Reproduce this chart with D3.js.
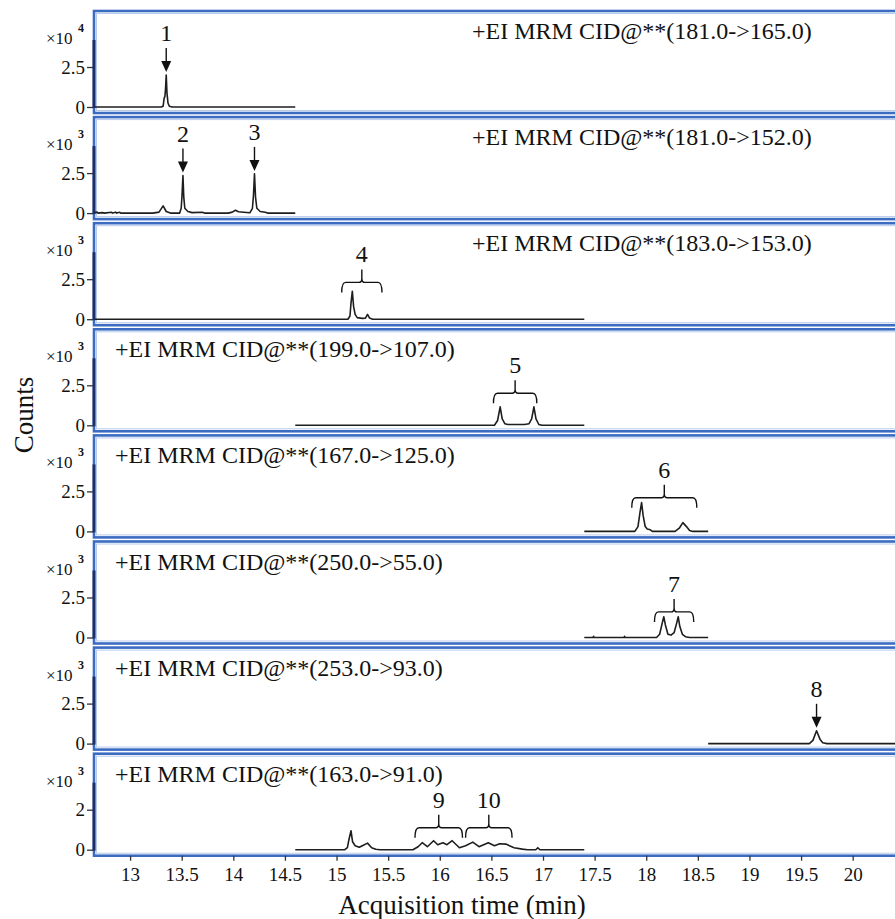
<!DOCTYPE html>
<html>
<head>
<meta charset="utf-8">
<script src="https://cdn.jsdelivr.net/npm/d3@7"></script>
<style>
  body { margin: 0; background: #fff; }
  svg { display: block; }
  svg text { font-family: "Liberation Serif", "Times New Roman", serif; }
</style>
</head>
<body>
<svg id="chart" width="895" height="919"></svg>
<script>
/* MRM chromatograms, one strip per transition, stacked on a shared time axis */

const xTicks = [13, 13.5, 14, 14.5, 15, 15.5, 16, 16.5, 17, 17.5, 18, 18.5, 19, 19.5, 20];
const xDomain = [12.66, 20.41];

const transitions = [
    '+EI MRM CID@**(181.0->165.0)',
    '+EI MRM CID@**(181.0->152.0)',
    '+EI MRM CID@**(183.0->153.0)',
    '+EI MRM CID@**(199.0->107.0)',
    '+EI MRM CID@**(167.0->125.0)',
    '+EI MRM CID@**(250.0->55.0)',
    '+EI MRM CID@**(253.0->93.0)',
    '+EI MRM CID@**(163.0->91.0)'
];
const labelOnRight = [true, true, true, false, false, false, false, false];
const exponents = ['4', '3', '3', '3', '3', '3', '3', '3'];
const yTickValues = [[0, 2.5], [0, 2.5], [0, 2.5], [0, 2.5], [0, 2.5], [0, 2.5], [0, 2.5], [0, 2]];
const yMax = [6, 6, 6, 6, 6, 6, 6, 4.8];

// [time (min), counts (x10^n)]
const trace1 = [[12.66, 0], [13.30, 0], [13.32, 0.05], [13.33, 0.55], [13.337, 0.65], [13.343, 1.1],
    [13.35, 2.0], [13.357, 0.9], [13.367, 0.25], [13.38, 0.05], [13.41, 0], [14.6, 0]];
const trace2 = [[12.66, 0.03], [12.68, 0.06], [12.69, 0], [12.73, 0.03], [12.75, 0], [12.82, 0.05],
    [12.83, 0], [12.86, 0.06], [12.87, 0], [12.90, 0.05], [12.91, 0], [13.22, 0], [13.28, 0.06],
    [13.32, 0.45], [13.35, 0.1], [13.39, 0], [13.48, 0], [13.495, 0.3], [13.503, 1.1], [13.512, 2.35],
    [13.52, 1.0], [13.53, 0.3], [13.56, 0.1], [13.60, 0.03], [13.70, 0.05], [13.72, 0], [13.95, 0],
    [13.99, 0.06], [14.02, 0.18], [14.05, 0.08], [14.10, 0.05], [14.16, 0.02], [14.185, 0.3],
    [14.195, 1.1], [14.205, 2.45], [14.215, 1.0], [14.228, 0.3], [14.26, 0.1], [14.31, 0.05],
    [14.33, 0], [14.6, 0]];
const trace3 = [[12.66, 0], [15.11, 0], [15.13, 0.2], [15.14, 1.0], [15.153, 1.75], [15.165, 0.8],
    [15.18, 0.3], [15.20, 0.1], [15.25, 0.05], [15.28, 0.07], [15.30, 0.3], [15.32, 0.07],
    [15.35, 0], [17.4, 0]];
const trace4 = [[14.6, 0], [16.53, 0], [16.56, 0.3], [16.585, 1.15], [16.605, 0.4], [16.63, 0.1],
    [16.66, 0.05], [16.82, 0.05], [16.865, 0.1], [16.89, 0.4], [16.912, 1.15], [16.932, 0.4],
    [16.96, 0.05], [16.99, 0], [17.4, 0]];
const trace5 = [[17.4, 0], [17.89, 0], [17.92, 0.3], [17.94, 1.2], [17.955, 1.8], [17.97, 1.0],
    [17.99, 0.3], [18.01, 0.15], [18.04, 0.1], [18.06, 0], [18.28, 0], [18.32, 0.2], [18.355, 0.55],
    [18.39, 0.3], [18.42, 0.05], [18.45, 0], [18.6, 0]];
const trace6 = [[17.4, 0], [17.485, 0], [17.49, 0.08], [17.495, 0], [17.785, 0], [17.79, 0.08],
    [17.795, 0], [18.10, 0], [18.13, 0.2], [18.155, 0.9], [18.17, 1.3], [18.185, 0.8], [18.21, 0.2],
    [18.24, 0.15], [18.27, 0.3], [18.295, 0.9], [18.31, 1.3], [18.325, 0.7], [18.35, 0.2],
    [18.38, 0.05], [18.42, 0], [18.6, 0]];
const trace7 = [[18.6, 0], [19.58, 0], [19.615, 0.2], [19.65, 0.8], [19.685, 0.25], [19.71, 0.05],
    [19.75, 0], [20.5, 0]];
const trace8 = [[14.6, 0], [15.08, 0], [15.105, 0.1], [15.12, 0.5], [15.14, 0.95], [15.155, 0.4],
    [15.18, 0.2], [15.22, 0.12], [15.25, 0.2], [15.30, 0.33], [15.34, 0.1], [15.38, 0.02],
    [15.42, 0], [15.74, 0], [15.79, 0.15], [15.83, 0.35], [15.88, 0.15], [15.94, 0.45], [15.98, 0.25],
    [16.03, 0.35], [16.07, 0.25], [16.12, 0.45], [16.19, 0.1], [16.25, 0.2], [16.32, 0.38],
    [16.38, 0.15], [16.47, 0.35], [16.53, 0.2], [16.58, 0.3], [16.64, 0.28], [16.72, 0.1],
    [16.80, 0.03], [16.85, 0], [16.93, 0], [16.95, 0.1], [16.97, 0], [17.4, 0]];
const traces = [trace1, trace2, trace3, trace4, trace5, trace6, trace7, trace8];

// peaks marked by an arrow: panel index, label, retention time, apex height
const arrowPanels = [0, 1, 1, 6];
const arrowLabels = ['1', '2', '3', '8'];
const arrowTimes = [13.35, 13.512, 14.205, 19.65];
const arrowHeights = [2.0, 2.35, 2.45, 0.8];

// peak groups marked by a brace: panel index, label, start/end time, brace height
const bracePanels = [2, 3, 4, 5, 7, 7];
const braceLabels = ['4', '5', '6', '7', '9', '10'];
const braceStart = [15.05, 16.52, 17.86, 18.08, 15.76, 16.25];
const braceEnd = [15.44, 16.94, 18.49, 18.46, 16.22, 16.70];
const braceHeights = [2.3, 2.0, 2.1, 1.6, 1.1, 1.1];

const PANEL_LEFT = 94, PANEL_TOP = 11, PANEL_STEP = 106.1, PANEL_H = 102;
const BASE_OFFSET = 96; // zero line sits this far below the panel top
const colors = {
    frame: '#3c6cc2',
    frameInner: '#b7cbec',
    axis: '#1c2f68',
    trace: '#1e1e1e',
    ink: '#111'
};

const svg = d3.select('#chart');
const x = d3.scaleLinear().domain(xDomain).range([95, 895]);
const line = d3.line().x(d => x(d[0]));

function panelTop(i) { return PANEL_TOP + i * PANEL_STEP; }

function makeY(i) {
    let top = panelTop(i);
    return d3.scaleLinear().domain([0, yMax[i]]).range([top + BASE_OFFSET, top]);
}

let ys = transitions.map((t, i) => makeY(i));

transitions.forEach((label, i) => {
    let top = panelTop(i), y = ys[i];
    let g = svg.append('g').attr('class', 'panel');

    g.append('rect')
        .attr('x', PANEL_LEFT).attr('y', top)
        .attr('width', 830).attr('height', PANEL_H)
        .attr('fill', 'none')
        .attr('stroke', colors.frame)
        .attr('stroke-width', 2.6);
    g.append('rect')
        .attr('x', PANEL_LEFT + 2.5).attr('y', top + 2.5)
        .attr('width', 830).attr('height', PANEL_H - 5)
        .attr('fill', 'none')
        .attr('stroke', colors.frameInner)
        .attr('stroke-width', 1);

    // y axis: ticks + dark spine running up from the zero line
    let axis = g.append('g')
        .attr('transform', `translate(${PANEL_LEFT - 1},0)`)
        .call(d3.axisLeft(y).tickValues(yTickValues[i]).tickSize(6).tickPadding(2).tickFormat(d => d));
    axis.select('.domain').remove();
    axis.attr('font-family', null);
    axis.selectAll('line').attr('stroke', '#333').attr('stroke-width', 1.3);
    axis.selectAll('text')
        .attr('font-size', 19)
        .attr('fill', colors.ink);

    g.append('line')
        .attr('x1', PANEL_LEFT).attr('x2', PANEL_LEFT)
        .attr('y1', y(0) + 1).attr('y2', y(0) - 67)
        .attr('stroke', colors.axis)
        .attr('stroke-width', 3);

    g.append('text')
        .attr('x', 46).attr('y', y(0) - 63)
        .attr('font-size', 17)
        .attr('fill', colors.ink)
        .text('×10');
    g.append('text')
        .attr('x', 78).attr('y', y(0) - 75)
        .attr('font-size', 12)
        .attr('font-weight', 'bold')
        .attr('fill', colors.ink)
        .text(exponents[i]);

    g.append('text')
        .attr('x', labelOnRight[i] ? 472 : 115)
        .attr('y', top + 28)
        .attr('font-size', 24)
        .attr('fill', colors.ink)
        .text(label);

    g.append('path')
        .datum(traces[i])
        .attr('d', line.y(d => y(d[1])))
        .attr('fill', 'none')
        .attr('stroke', colors.trace)
        .attr('stroke-width', 1.6)
        .attr('stroke-linejoin', 'round');
});

// arrows over single peaks
arrowPanels.forEach((p, k) => {
    let px = x(arrowTimes[k]), tip = ys[p](arrowHeights[k]) - 3;
    let g = svg.append('g');
    g.append('line')
        .attr('x1', px).attr('x2', px)
        .attr('y1', tip - 24).attr('y2', tip - 8)
        .attr('stroke', colors.ink).attr('stroke-width', 1.4);
    g.append('path')
        .attr('d', `M${px - 5},${tip - 11} L${px + 5},${tip - 11} L${px},${tip} Z`)
        .attr('fill', colors.ink);
    g.append('text')
        .attr('x', px).attr('y', tip - 31)
        .attr('text-anchor', 'middle')
        .attr('font-size', 24)
        .attr('fill', colors.ink)
        .text(arrowLabels[k]);
});

// braces over groups of isomer peaks
bracePanels.forEach((p, k) => {
    let x0 = x(braceStart[k]), x1 = x(braceEnd[k]), xc = (x0 + x1) / 2;
    let yb = ys[p](braceHeights[k]);
    let d = `M${x0},${yb + 10} Q${x0},${yb} ${x0 + 4},${yb} L${xc - 3},${yb} Q${xc},${yb} ${xc},${yb - 4}` +
        ` L${xc},${yb - 13} M${xc},${yb - 4} Q${xc},${yb} ${xc + 3},${yb} L${x1 - 4},${yb} Q${x1},${yb} ${x1},${yb + 10}`;
    svg.append('path')
        .attr('d', d)
        .attr('fill', 'none')
        .attr('stroke', colors.ink)
        .attr('stroke-width', 1.4);
    svg.append('text')
        .attr('x', xc).attr('y', yb - 20)
        .attr('text-anchor', 'middle')
        .attr('font-size', 24)
        .attr('fill', colors.ink)
        .text(braceLabels[k]);
});

// shared time axis under the last strip
let bottom = panelTop(transitions.length - 1) + PANEL_H;
let xAxis = svg.append('g')
    .attr('transform', `translate(0,${bottom})`)
    .call(d3.axisBottom(x).tickValues(xTicks).tickSize(5).tickPadding(7).tickFormat(d => d));
xAxis.select('.domain').remove();
xAxis.attr('font-family', null);
xAxis.selectAll('line').attr('stroke', '#333').attr('stroke-width', 1.3);
xAxis.selectAll('text')
    .attr('font-size', 19)
    .attr('fill', colors.ink);

svg.append('text')
    .attr('x', 462).attr('y', 914)
    .attr('text-anchor', 'middle')
    .attr('font-size', 27)
    .attr('fill', colors.ink)
    .text('Acquisition time (min)');

svg.append('text')
    .attr('transform', 'translate(33,415) rotate(-90)')
    .attr('text-anchor', 'middle')
    .attr('font-size', 27)
    .attr('fill', colors.ink)
    .text('Counts');
</script>
</body>
</html>
